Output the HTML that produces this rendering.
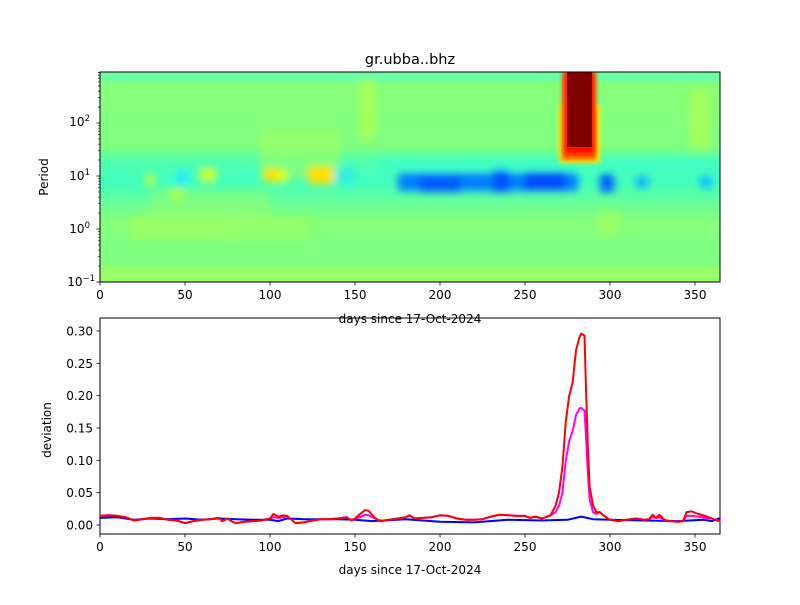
<!DOCTYPE html>
<html><head><meta charset="utf-8"><style>
html,body{margin:0;padding:0;background:#fff}
svg text{font-family:"DejaVu Sans","Liberation Sans",sans-serif;fill:#000}
</style></head><body>
<svg id="s" width="800" height="600" viewBox="0 0 800 600" xmlns="http://www.w3.org/2000/svg">
<defs>
<clipPath id="c1"><rect x="100" y="72" width="620" height="210"/></clipPath>
<filter id="b1" x="-20%" y="-20%" width="140%" height="140%"><feGaussianBlur stdDeviation="4"/></filter>
<filter id="b2" x="-50%" y="-50%" width="200%" height="200%"><feGaussianBlur stdDeviation="2"/></filter>
<linearGradient id="bg" x1="0" y1="0" x2="0" y2="1">
<stop offset="0" stop-color="#70ffa0"/><stop offset="0.04" stop-color="#70ffa0"/>
<stop offset="0.05" stop-color="#88ff78"/><stop offset="0.35" stop-color="#80ff80"/>
<stop offset="0.43" stop-color="#50ffb0"/><stop offset="0.52" stop-color="#40ffc0"/>
<stop offset="0.6" stop-color="#60ffa0"/><stop offset="0.72" stop-color="#88ff78"/>
<stop offset="0.8" stop-color="#80ff80"/><stop offset="0.92" stop-color="#80ff80"/>
<stop offset="0.94" stop-color="#98ff68"/><stop offset="1" stop-color="#98ff68"/>
</linearGradient>
</defs>
<g clip-path="url(#c1)">
<rect x="100" y="72" width="620" height="210" fill="url(#bg)"/>
<g filter="url(#b1)">
<rect x="130" y="215" width="100" height="25" fill="#b0ff50" opacity="0.45"/>
<rect x="230" y="215" width="80" height="25" fill="#b0ff50" opacity="0.35"/>
<rect x="150" y="190" width="120" height="25" fill="#a0ff60" opacity="0.4"/>
<rect x="260" y="130" width="80" height="50" fill="#a8ff58" opacity="0.5"/>
<rect x="200" y="168" width="16" height="14" fill="#d0ff30"/>
<rect x="264" y="168" width="14" height="14" fill="#ffe000"/>
<rect x="278" y="170" width="10" height="12" fill="#e8ff18"/>
<rect x="308" y="166" width="26" height="18" fill="#ffe000"/>
<rect x="145" y="175" width="10" height="10" fill="#c8ff38"/>
<rect x="170" y="188" width="14" height="12" fill="#b0ff50"/>
<rect x="177" y="170" width="10" height="16" fill="#20e8ff"/>
<rect x="335" y="168" width="20" height="16" fill="#30f0e0"/>
<rect x="360" y="80" width="15" height="60" fill="#b0ff50" opacity="0.8"/>
<rect x="100" y="72" width="620" height="8" fill="#60ffa8" opacity="0.6"/>
<rect x="380" y="158" width="340" height="12" fill="#30ffd0" opacity="0.6"/>
<rect x="398" y="173" width="180" height="18" fill="#0080ff"/>
<rect x="420" y="176" width="40" height="16" fill="#0058ff"/>
<rect x="493" y="170" width="16" height="22" fill="#0050ff"/>
<rect x="525" y="172" width="40" height="18" fill="#0048ff"/>
<rect x="600" y="174" width="14" height="18" fill="#0060ff"/>
<rect x="636" y="176" width="12" height="12" fill="#10b0ff"/>
<rect x="700" y="176" width="12" height="12" fill="#10c0ff"/>
<rect x="690" y="90" width="20" height="60" fill="#b0ff50" opacity="0.7"/>
<rect x="598" y="210" width="20" height="25" fill="#b0ff50" opacity="0.5"/>
</g>
<rect x="559" y="105" width="41" height="58" fill="#ffe800" filter="url(#b2)"/>
<rect x="562" y="72" width="34" height="88" fill="#ff6000" filter="url(#b2)"/>
<rect x="565" y="72" width="29" height="82" fill="#ff1000" filter="url(#b2)"/>
<rect x="567" y="72" width="25" height="75" fill="#800000"/>
</g>
<rect x="100" y="72" width="620" height="210" fill="none" stroke="#000" stroke-width="1"/>
<text x="410" y="64" font-size="14.5" text-anchor="middle">gr.ubba..bhz</text>
<text x="410" y="323" font-size="12" text-anchor="middle">days since 17-Oct-2024</text>
<text x="48" y="177" font-size="12" text-anchor="middle" transform="rotate(-90 48 177)">Period</text>
<g font-size="12" text-anchor="end">
<text x="90" y="126">10<tspan dy="-5" font-size="8.5">2</tspan></text>
<text x="90" y="180">10<tspan dy="-5" font-size="8.5">1</tspan></text>
<text x="90" y="233">10<tspan dy="-5" font-size="8.5">0</tspan></text>
<text x="95" y="286">10<tspan dy="-5" font-size="8.5">−1</tspan></text>
</g>
<rect x="100" y="318" width="620" height="216" fill="none" stroke="#000" stroke-width="1"/>
<text x="410" y="574" font-size="12" text-anchor="middle">days since 17-Oct-2024</text>
<text x="51" y="430" font-size="12" text-anchor="middle" transform="rotate(-90 51 430)">deviation</text>
</svg>
<script>
var s=document.getElementById('s'),NS='http://www.w3.org/2000/svg';
function el(t,a,txt){var e=document.createElementNS(NS,t);for(var k in a)e.setAttribute(k,a[k]);if(txt!=null)e.textContent=txt;s.appendChild(e);return e;}
function X(d){return 100+d*1.7;}
[0,50,100,150,200,250,300,350].forEach(function(d){
 [282,534].forEach(function(y){el('line',{x1:X(d),x2:X(d),y1:y,y2:y+3.5,stroke:'#000','stroke-width':0.8});
 el('text',{x:X(d),y:y+17,'font-size':12,'text-anchor':'middle'},d);});
});
function LY(p){return 229-53*p;}
for(var e=-1;e<3;e++){for(var m=1;m<10;m++){var y=LY(e+Math.log10(m));if(y<72)continue;
 el('line',{x1:100,x2:m==1?96.5:98,y1:y,y2:y,stroke:'#000','stroke-width':m==1?0.8:0.6});}}
for(var m=1;m<10;m++){var y=LY(2+Math.log10(m));if(y>=72)el('line',{x1:100,x2:98,y1:y,y2:y,stroke:'#000','stroke-width':0.6});}
function Y(v){return 525-v*646.7;}
[0,0.05,0.1,0.15,0.2,0.25,0.3].forEach(function(v){el('line',{x1:96.5,x2:100,y1:Y(v),y2:Y(v),stroke:'#000','stroke-width':0.8});
 el('text',{x:93,y:Y(v)+4.5,'font-size':12,'text-anchor':'end'},v.toFixed(2));});
var red=[[0,.014],[5,.015],[10,.014],[15,.012],[20,.007],[25,.009],[30,.011],[35,.011],[40,.008],[45,.007],[50,.003],[55,.006],[60,.008],[65,.009],[70,.011],[72,.006],[75,.01],[78,.005],[80,.003],[85,.005],[90,.006],[95,.007],[100,.01],[102,.017],[105,.013],[108,.015],[110,.014],[115,.003],[120,.004],[125,.007],[130,.009],[135,.009],[140,.01],[145,.012],[148,.007],[150,.01],[153,.017],[156,.023],[158,.022],[162,.01],[165,.006],[170,.008],[175,.01],[180,.012],[182,.015],[185,.01],[190,.011],[195,.012],[200,.015],[205,.014],[210,.01],[215,.008],[220,.008],[225,.009],[230,.013],[235,.016],[240,.015],[245,.014],[250,.014],[253,.011],[256,.013],[260,.01],[265,.015],[268,.03],[270,.05],[272,.09],[274,.16],[276,.2],[278,.22],[280,.27],[282,.29],[283,.296],[285,.293],[286,.2],[287,.12],[288,.06],[290,.03],[292,.02],[294,.02],[296,.015],[300,.008],[305,.006],[310,.008],[315,.01],[320,.008],[323,.009],[325,.016],[327,.011],[329,.016],[332,.008],[335,.006],[340,.005],[343,.006],[345,.02],[348,.021],[352,.017],[356,.014],[360,.01],[363,.007],[365,.006]];
var mod={102:.012,105:.011,108:.012,153:.012,156:.016,158:.015,268:.02,270:.03,272:.05,274:.1,276:.13,278:.145,280:.17,282:.18,283:.181,285:.177,286:.13,287:.08,288:.04,290:.02,292:.017,345:.014,348:.014,352:.013,356:.011,325:.012,329:.012};
var mag=red.map(function(p){return [p[0],mod[p[0]]!=null?mod[p[0]]:p[1]];});
var blue=[[0,.011],[10,.012],[20,.008],[30,.01],[40,.009],[50,.01],[60,.008],[70,.01],[80,.009],[90,.008],[100,.008],[105,.006],[110,.01],[120,.009],[140,.009],[150,.008],[160,.006],[180,.009],[190,.007],[200,.005],[220,.004],[240,.008],[260,.007],[275,.008],[283,.013],[290,.009],[300,.008],[320,.007],[340,.006],[355,.008],[360,.006],[365,.011]];
function pl(d,c){el('polyline',{points:d.map(function(p){return X(p[0]).toFixed(1)+','+Y(p[1]).toFixed(1);}).join(' '),fill:'none',stroke:c,'stroke-width':2,'stroke-linejoin':'round'});}
pl(blue,'#0000ff');pl(mag,'#ff00ff');pl(red,'#ff0000');
</script>
</body></html>
